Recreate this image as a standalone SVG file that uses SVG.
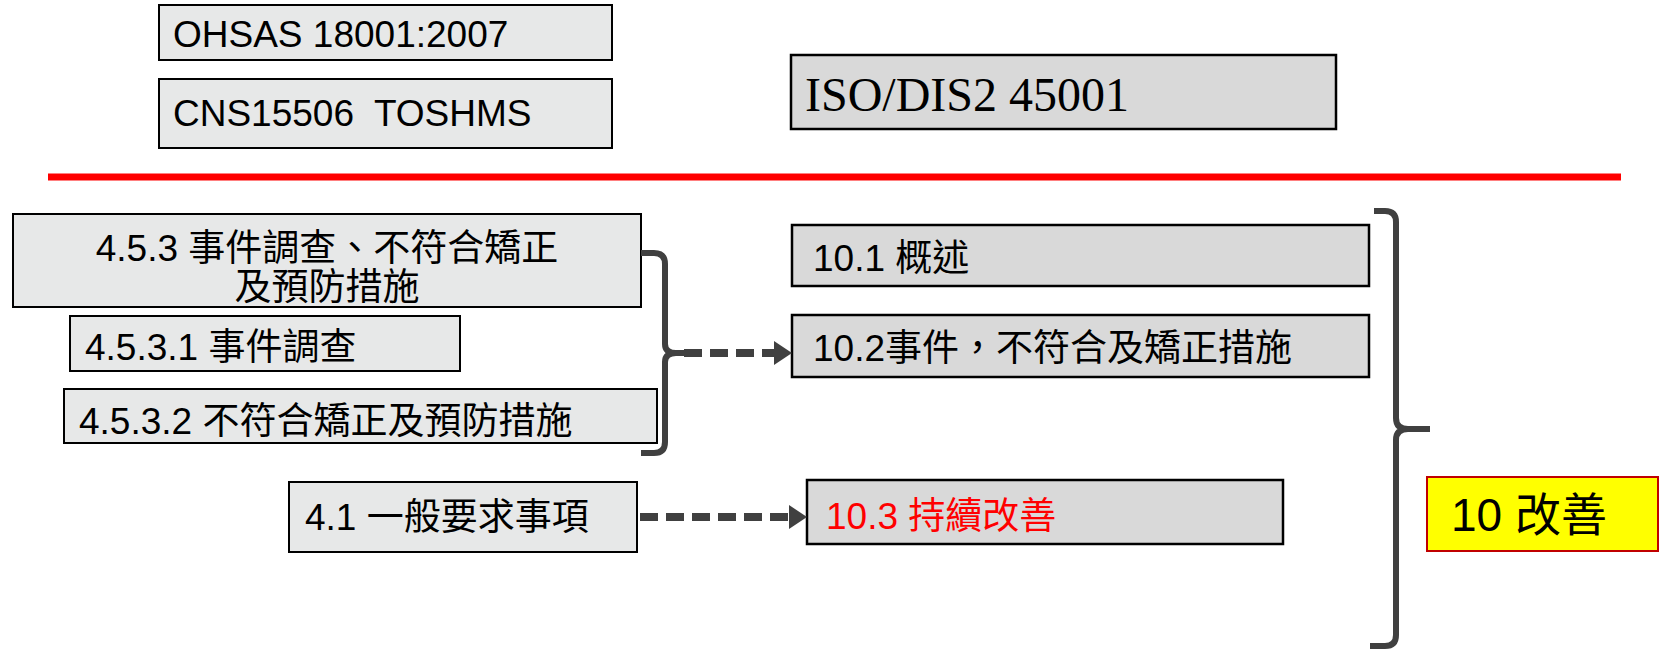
<svg xmlns="http://www.w3.org/2000/svg" width="1661" height="652" viewBox="0 0 1661 652">
<style>
  .bl { fill: #e7e8e8; stroke: #000; stroke-width: 2; }
  .br { fill: #d9d9d9; stroke: #000; stroke-width: 2.5; }
  .t { font-family: "Liberation Sans", "Noto Sans CJK TC", sans-serif; font-size: 37px; fill: #000; white-space: pre; }
  .tr { font-family: "Liberation Serif", serif; font-size: 48px; fill: #000; }
  .brace { fill: none; stroke: #404040; stroke-width: 6; stroke-linecap: butt; stroke-linejoin: round; }
  .dash { fill: none; stroke: #404040; stroke-width: 8; stroke-dasharray: 18 8; }
</style>
<defs>
  <marker id="ah" markerUnits="userSpaceOnUse" markerWidth="18" markerHeight="24" refX="0" refY="12" orient="auto">
    <path d="M0,0 L18,12 L0,24 z" fill="#404040"/>
  </marker>
</defs>
<rect width="1661" height="652" fill="#fff"/>
<line x1="48" y1="177" x2="1621" y2="177" stroke="#ff0000" stroke-width="7"/>
<g id="ohsas">
  <rect class="bl" x="159" y="5" width="453" height="55"/>
  <text class="t" x="173" y="47">OHSAS 18001:2007</text>
</g>
<g id="cns">
  <rect class="bl" x="159" y="79" width="453" height="69"/>
  <text class="t" x="173" y="126" xml:space="preserve">CNS15506  TOSHMS</text>
</g>
<g id="iso">
  <rect class="br" x="791" y="55" width="545" height="74"/>
  <text class="tr" x="805" y="111">ISO/DIS2 45001</text>
</g>
<g id="n453">
  <rect class="bl" x="13" y="214" width="628" height="93"/>
  <text class="t" x="327" y="261" text-anchor="middle">4.5.3 事件調查、不符合矯正</text>
  <text class="t" x="327" y="300" text-anchor="middle">及預防措施</text>
</g>
<g id="n4531">
  <rect class="bl" x="70" y="316" width="390" height="55"/>
  <text class="t" x="85" y="360">4.5.3.1 事件調查</text>
</g>
<g id="n4532">
  <rect class="bl" x="64" y="389" width="593" height="54"/>
  <text class="t" x="79" y="434">4.5.3.2 不符合矯正及預防措施</text>
</g>
<g id="n41">
  <rect class="bl" x="289" y="482" width="348" height="70"/>
  <text class="t" x="305" y="530">4.1 一般要求事項</text>
</g>
<g id="n101">
  <rect class="br" x="792" y="225" width="577" height="61"/>
  <text class="t" x="813" y="271">10.1 概述</text>
</g>
<g id="n102">
  <rect class="br" x="792" y="315" width="577" height="62"/>
  <text class="t" x="813" y="361">10.2事件，不符合及矯正措施</text>
</g>
<g id="n103">
  <rect class="br" x="807" y="480" width="476" height="64"/>
  <text class="t" x="826" y="529" style="fill:#ff0000">10.3 持續改善</text>
</g>
<g id="n10">
  <rect x="1427" y="477" width="231" height="74" fill="#ffff00" stroke="#c00000" stroke-width="2"/>
  <text class="t" x="1451" y="531" style="font-size:46px">10 改善</text>
</g>
<g id="connectors">
  <path class="brace" d="M641,253 H654 Q665,253 665,264 V344 Q665,353 676,353 H684 M676,353 Q665,353 665,362 V442 Q665,453 654,453 H641"/>
  <path class="brace" d="M1374,211 H1385 Q1396,211 1396,222 V418 Q1396,429 1408,429 H1430 M1408,429 Q1396,429 1396,440 V635 Q1396,646 1385,646 H1370"/>
  <line class="dash" x1="684" y1="353" x2="774" y2="353" marker-end="url(#ah)"/>
  <line class="dash" x1="640" y1="517" x2="789" y2="517" marker-end="url(#ah)"/>
</g>
</svg>
